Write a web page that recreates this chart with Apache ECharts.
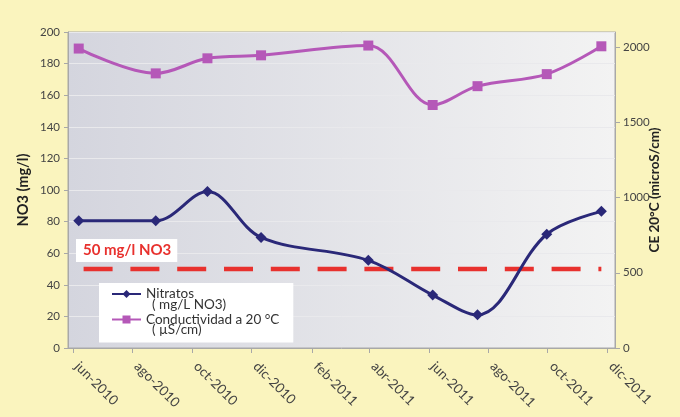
<!DOCTYPE html>
<html>
<head>
<meta charset="utf-8">
<script src="https://cdn.jsdelivr.net/npm/echarts@6/dist/echarts.min.js"></script>
<style>
html,body{margin:0;padding:0;background:#FAF4BE;}
#chart{width:680px;height:417px;}
</style>
</head>
<body>
<div id="chart"></div>
<script>
// ---- data ----
var dates = ['2010-06-07','2010-08-25','2010-10-17','2010-12-11','2011-03-31','2011-06-05','2011-07-21','2011-09-30','2011-11-25'];
var nitratos = [80.5, 80.5, 99, 70, 55.5, 33.5, 21, 72, 86.5];
var conductividad = [1990, 1825, 1925, 1945, 2010, 1615, 1740, 1820, 2005];
var tickDates = ['2010-06-01','2010-08-01','2010-10-01','2010-12-01','2011-02-01','2011-04-01','2011-06-01','2011-08-01','2011-10-01','2011-12-01'];
var tickLabels = ['jun-2010','ago-2010','oct-2010','dic-2010','feb-2011','abr-2011','jun-2011','ago-2011','oct-2011','dic-2011'];
var limitValue = 50;
var limitRange = ['2010-06-12','2011-11-25'];
var rightTicks = [0,500,1000,1500,2000];

function ts(s){ var p = s.split('-'); return Date.UTC(+p[0], +p[1]-1, +p[2]); }
var tickTs = tickDates.map(ts);

var chart = echarts.init(document.getElementById('chart'), null, {renderer:'canvas'});
var FONT = 'Lato';
var option = {
  backgroundColor: '#FAF4BE',
  animation: false,
  textStyle: {fontFamily: FONT},
  grid: {
    left: 68, right: 65, top: 32, bottom: 69,
    show: true,
    borderColor: '#A8A8A8', borderWidth: 1,
    backgroundColor: {type:'linear', x:0, y:0, x2:1, y2:0, colorStops:[{offset:0,color:'#D4D5DE'},{offset:1,color:'#F3F3F3'}]}
  },
  legend: {
    orient: 'vertical', left: 99, top: 283,
    backgroundColor: '#FFFFFF',
    padding: [4, 14, 16, 12],
    itemGap: 11.5, itemWidth: 29, itemHeight: 10,
    textStyle: {fontFamily: FONT, fontSize: 13.5, color: '#333'},
    data: ['Nitratos', 'Conductividad a 20 °C']
  },
  xAxis: {
    type: 'value',
    min: ts('2010-05-27'), max: ts('2011-12-09'),
    axisLine: {lineStyle: {color: '#A8A8A8'}},
    axisTick: {show: true, customValues: tickTs, length: 5, lineStyle: {color: '#A8A8A8'}},
    axisLabel: {
      customValues: tickTs, rotate: -45, margin: 12,
      color: '#444', fontFamily: FONT, fontSize: 13.5,
      padding: [0, 0, 0, 6],
      formatter: function(v){ var i = tickTs.indexOf(v); return i >= 0 ? tickLabels[i] : ''; }
    },
    splitLine: {show: false}
  },
  yAxis: [{
    type: 'value', min: 0, max: 200, interval: 20,
    name: 'NO3 (mg/l)', nameLocation: 'middle', nameGap: 37, nameRotate: 90, nameMoveOverlap: false,
    nameTextStyle: {fontFamily: FONT, fontWeight: 'bold', fontSize: 14.5, color: '#222'},
    axisLine: {show: true, lineStyle: {color: '#A8A8A8'}},
    axisTick: {show: true, length: 4, lineStyle: {color: '#A8A8A8'}},
    axisLabel: {color: '#444', fontFamily: FONT, fontSize: 11.5, margin: 8},
    splitLine: {show: true, lineStyle: {color: '#E9E9EC', width: 1}}
  }, {
    type: 'value', min: 0, max: 2100,
    name: 'CE 20°C (microS/cm)', nameLocation: 'middle', nameGap: 33, nameRotate: 90, nameMoveOverlap: false,
    nameTextStyle: {fontFamily: FONT, fontWeight: 'bold', fontSize: 13.5, color: '#222'},
    axisLine: {show: true, lineStyle: {color: '#A8A8A8'}},
    axisTick: {show: true, length: 5, customValues: rightTicks, lineStyle: {color: '#A8A8A8'}},
    axisLabel: {color: '#444', fontFamily: FONT, fontSize: 11.5, margin: 8, customValues: rightTicks,
      formatter: function(v){ return String(v); }},
    splitLine: {show: false}
  }],
  series: [{
    name: 'Nitratos', type: 'line', yAxisIndex: 0, smooth: 0.35,
    data: dates.map(function(d,i){ return [ts(d), nitratos[i]]; }),
    symbol: 'diamond', symbolSize: 11,
    lineStyle: {color: '#2A2878', width: 3},
    itemStyle: {color: '#2A2878'},
    z: 4
  }, {
    name: 'Conductividad a 20 °C', type: 'line', yAxisIndex: 1, smooth: 0.35,
    data: dates.map(function(d,i){ return [ts(d), conductividad[i]]; }),
    symbol: 'rect', symbolSize: 10,
    lineStyle: {color: '#B558B8', width: 3},
    itemStyle: {color: '#B558B8'},
    z: 4
  }, {
    name: 'limite', type: 'line', yAxisIndex: 0,
    data: limitRange.map(function(d){ return [ts(d), limitValue]; }),
    symbol: 'none', silent: true,
    lineStyle: {color: '#E8312E', width: 4.5, type: [29, 17.8], cap: 'butt'},
    z: 3
  }],
  graphic: [
    {type: 'text', left: 152, top: 298, z: 100, style: {text: '( mg/L NO3)', fill: '#333', font: '13.5px ' + FONT}},
    {type: 'text', left: 152, top: 323, z: 100, style: {text: '( µS/cm)', fill: '#333', font: '13.5px ' + FONT}},
    {type: 'text', left: 76, top: 239, z: 100, style: {text: '50 mg/l NO3', fill: '#E8312E', font: 'bold 15px ' + FONT, backgroundColor: '#FFFFFF', padding: [4, 6, 4, 7]}}
  ]
};
chart.setOption(option);
</script>
</body>
</html>
